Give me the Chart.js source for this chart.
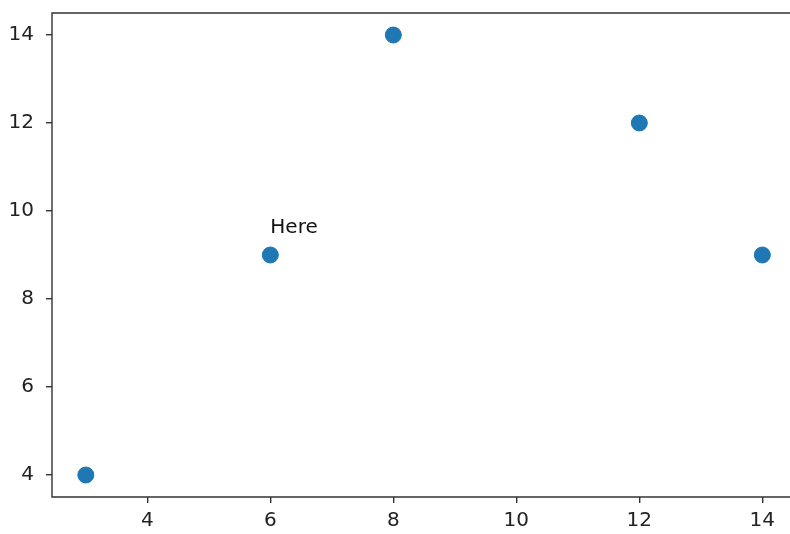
<!DOCTYPE html>
<html>
<head>
<meta charset="utf-8">
<script src="https://cdn.jsdelivr.net/npm/chart.js@4"></script>
<style>
  body { margin: 0; background: #fff; overflow: hidden; }
  canvas { display: block; }
</style>
</head>
<body>
<canvas id="chart" width="790" height="534"></canvas>
<script>
// data
var xValues = [3, 6, 8, 12, 14];
var yValues = [4, 9, 14, 12, 9];
var xTicks = [4, 6, 8, 10, 12, 14];
var yTicks = [4, 6, 8, 10, 12, 14];
var noteText = 'Here';
var notePos = [6, 9.5];

var points = xValues.map(function (x, i) { return {x: x, y: yValues[i]}; });

// frame (right side is cut off in the picture) + the text note
var framePlugin = {
  id: 'frame',
  afterDraw: function (chart) {
    var ctx = chart.ctx, a = chart.chartArea;
    ctx.save();
    ctx.strokeStyle = '#333';
    ctx.lineWidth = 1.4;
    ctx.beginPath();
    ctx.moveTo(chart.width, a.top);
    ctx.lineTo(a.left, a.top);
    ctx.lineTo(a.left, a.bottom);
    ctx.lineTo(chart.width, a.bottom);
    ctx.stroke();
    ctx.fillStyle = '#111';
    ctx.font = '20px "DejaVu Sans"';
    ctx.textAlign = 'left';
    ctx.textBaseline = 'alphabetic';
    ctx.fillText(noteText, chart.scales.x.getPixelForValue(notePos[0]), chart.scales.y.getPixelForValue(notePos[1]));
    ctx.restore();
  }
};

var tickFont = {family: 'DejaVu Sans', size: 20};

// no extra padding for edge labels, fixed axis sizes
var fixX = function (s) { s.height = 37; s.paddingLeft = 0; s.paddingRight = 0; s.paddingTop = 0; s.paddingBottom = 0; };
var fixY = function (s) { s.width = 52; s.paddingLeft = 0; s.paddingRight = 0; s.paddingTop = 0; s.paddingBottom = 0; };

new Chart(document.getElementById('chart'), {
  type: 'scatter',
  data: {
    datasets: [{
      data: points,
      backgroundColor: '#1f77b4',
      borderColor: '#1f77b4',
      pointRadius: 8,
      pointHoverRadius: 8
    }]
  },
  options: {
    responsive: false,
    animation: false,
    layout: {autoPadding: false, padding: {top: 13, right: 0, left: 0, bottom: 0}},
    plugins: {legend: {display: false}, tooltip: {enabled: false}},
    scales: {
      x: {
        type: 'linear',
        min: 2.45,
        max: 14.45,
        afterBuildTicks: function (s) { s.ticks = xTicks.map(function (v) { return {value: v}; }); },
        afterFit: fixX,
        grid: {drawOnChartArea: false, drawTicks: true, tickLength: 6, color: '#333', lineWidth: 1.4},
        border: {display: false},
        ticks: {font: tickFont, color: '#222', padding: 6, maxRotation: 0, autoSkip: false}
      },
      y: {
        type: 'linear',
        min: 3.5,
        max: 14.5,
        afterBuildTicks: function (s) { s.ticks = yTicks.map(function (v) { return {value: v}; }); },
        afterFit: fixY,
        grid: {drawOnChartArea: false, drawTicks: true, tickLength: 6, color: '#333', lineWidth: 1.4},
        border: {display: false},
        ticks: {font: tickFont, color: '#222', padding: 12, autoSkip: false}
      }
    }
  },
  plugins: [framePlugin]
});
</script>
</body>
</html>
